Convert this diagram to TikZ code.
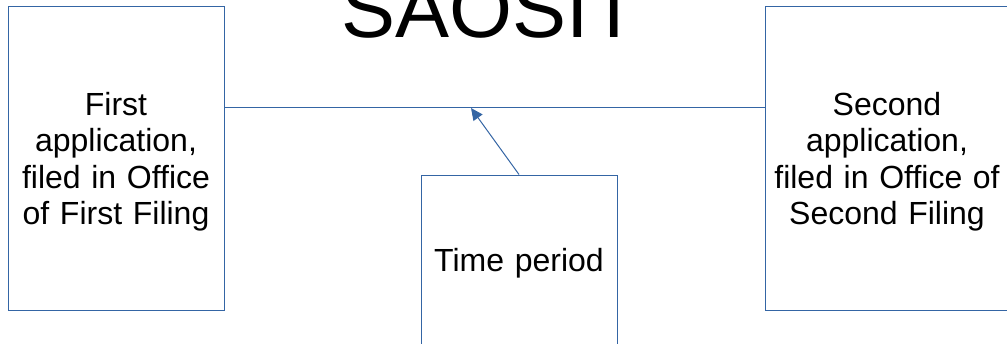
\documentclass[tikz,border=0pt]{standalone}
\usepackage{fontspec}
\setmainfont{Liberation Sans}
\usetikzlibrary{arrows.meta}
\definecolor{lineblue}{HTML}{3465A4}
\begin{document}
\begin{tikzpicture}[x=1pt,y=-1pt,
  box/.style={draw=lineblue,line width=1pt,rectangle,inner sep=0pt},
  boxtext/.style={inner sep=0pt,align=center,font=\fontsize{32}{36.5}\selectfont},
  conn/.style={draw=lineblue,line width=1pt}]
\useasboundingbox (0,0) rectangle (1007,343);
\node[box,minimum width=216pt,minimum height=304pt] (left) at (116,158) {};
\node[boxtext,text width=200pt] (lefttext) at ([yshift=-3.5pt]left.center)
  {First\\application,\\filed in Office\\of First Filing};
\node[box,minimum width=244pt,minimum height=304pt] (right) at (887,158) {};
\node[boxtext,text width=236pt] (righttext) at ([yshift=-3.5pt]right.center)
  {Second\\application,\\filed in Office of\\Second Filing};
\node[box,minimum width=196pt,minimum height=170pt] (mid) at (519,260) {};
\node[boxtext,text width=190pt] (midtext) at ([yshift=-3pt]mid.center) {Time period};
\node[anchor=base,inner sep=0pt,font=\fontsize{81}{95}\selectfont] (title) at (490,37) {SAOSIT};
\coordinate (ly) at (0,107);
\coordinate (tip) at (471,108);
\draw[conn] (left.east |- ly) -- (right.west |- ly);
\draw[conn,-{Triangle[length=12pt,width=11pt]}] (mid.north) -- (tip);
\end{tikzpicture}
\end{document}
